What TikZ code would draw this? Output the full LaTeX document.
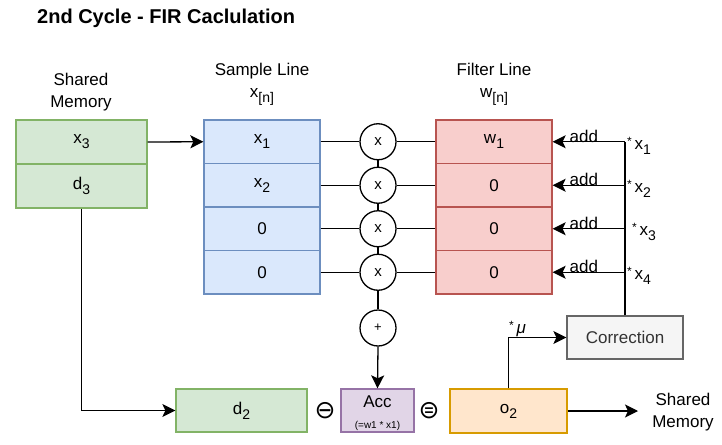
\documentclass[tikz,border=0pt]{standalone}
\usepackage{fontspec}
\setmainfont{Liberation Sans}
\newfontfamily\symfont{DejaVu Sans}
\usetikzlibrary{arrows.meta,calc}
\definecolor{gfill}{HTML}{D5E8D4}\definecolor{gline}{HTML}{82B366}
\definecolor{bfill}{HTML}{DAE8FC}\definecolor{bline}{HTML}{6C8EBF}
\definecolor{rfill}{HTML}{F8CECC}\definecolor{rline}{HTML}{B85450}
\definecolor{pfill}{HTML}{E1D5E7}\definecolor{pline}{HTML}{9673A6}
\definecolor{ofill}{HTML}{FFE6CC}\definecolor{oline}{HTML}{D79B00}
\definecolor{cfill}{HTML}{F5F5F5}\definecolor{cline}{HTML}{666666}
\definecolor{ctext}{HTML}{333333}
\newcommand{\mysub}[1]{\raisebox{-5pt}{\fontsize{14}{14}\selectfont #1}}
\newcommand{\mystar}{\raisebox{4pt}{\fontsize{12}{12}\selectfont*}}
\tikzset{
  txt/.style={font=\fontsize{17}{22}\selectfont, inner sep=0pt, align=center},
  cell/.style={draw, line width=1.3pt, inner sep=0pt, font=\fontsize{17}{20}\selectfont},
  gcell/.style={cell, fill=gfill, draw=gline, minimum width=131pt, minimum height=44pt},
  bcell/.style={cell, fill=bfill, draw=bline, minimum width=116pt, minimum height=43.5pt},
  rcell/.style={cell, fill=rfill, draw=rline, minimum width=116pt, minimum height=43.5pt},
  op/.style={circle, draw, line width=1.3pt, fill=white, minimum size=36pt, inner sep=0pt, font=\fontsize{15}{17}\selectfont},
  conn/.style={line width=1.3pt},
  arr/.style={line width=1.3pt, -{Stealth[length=13pt,width=13pt,inset=3pt]}},
  sym/.style={inner sep=0pt, font=\symfont\fontsize{25}{27}\selectfont},
}
\begin{document}
\begin{tikzpicture}[x=1pt,y=-1pt]
\useasboundingbox (0,0) rectangle (722,444);
% title
\node[anchor=west, inner sep=0pt, font=\fontsize{20}{24}\selectfont\bfseries] (title) at (37,18) {2nd Cycle - FIR Caclulation};
% labels
\node[txt] (lblmem) at (81,92) {Shared\\Memory};
\node[txt] (lblsam) at (262,84) {Sample Line\\x\mysub{[n]}};
\node[txt] (lblfil) at (494,84) {Filter Line\\w\mysub{[n]}};
% shared memory
\node[gcell] (m1) at (81.5,142) {x\mysub{3}};
\node[gcell] (m2) at (81.5,186) {d\mysub{3}};
% sample line
\node[bcell] (s1) at (262,141.75) {x\mysub{1}};
\node[bcell] (s2) at (262,185.25) {x\mysub{2}};
\node[bcell] (s3) at (262,228.75) {0};
\node[bcell] (s4) at (262,272.25) {0};
% filter line
\node[rcell] (f1) at (494,141.75) {w\mysub{1}};
\node[rcell] (f2) at (494,185.25) {0};
\node[rcell] (f3) at (494,228.75) {0};
\node[rcell] (f4) at (494,272.25) {0};
% multipliers
\node[op] (c1) at (378,141.75) {x};
\node[op] (c2) at (378,185.25) {x};
\node[op] (c3) at (378,228.75) {x};
\node[op] (c4) at (378,272.25) {x};
\node[op, font=\fontsize{13}{15}\selectfont] (plus) at (378,328) {+};
% bottom row
\node[cell, fill=gfill, draw=gline, minimum width=131pt, minimum height=43pt] (d2) at (241.5,410.5) {d\mysub{2}};
\node[cell, fill=pfill, draw=pline, minimum width=73pt, minimum height=43pt] (acc) at (377.5,410.5) {};
\node[txt] (acctop) at (377.5,402) {Acc};
\node[txt, font=\fontsize{10}{12}\selectfont] (accbot) at (377.5,426) {(=w1 * x1)};
\node[cell, fill=ofill, draw=oline, minimum width=117pt, minimum height=44pt] (o2) at (508.5,411) {o\mysub{2}};
\node[cell, fill=cfill, draw=cline, text=ctext, minimum width=116pt, minimum height=43pt] (corr) at (625,337.5) {Correction};
\node[sym] (minus) at (325,411) {⊖};
\node[sym] (equal) at (429,411) {⊜};
\node[txt] (outmem) at (683,412) {Shared\\Memory};
\coordinate (outend) at (638,411);
% connectors
\draw[arr] (m1.east) -- (s1.west);
\draw[arr] (m2.south) |- (d2.west);
\foreach \i in {1,2,3,4}{
  \draw[conn] (s\i.east) -- (c\i.west);
  \draw[conn] (c\i.east) -- (f\i.west);
}
\draw[conn] (c1.south) -- (c2.north);
\draw[conn] (c2.south) -- (c3.north);
\draw[conn] (c3.south) -- (c4.north);
\draw[conn] (c4.south) -- (plus.north);
\draw[arr] (plus.south) -- (acc.north);
\draw[arr] (o2.east) -- (outend);
\draw[arr] (o2.north) |- (corr.west);
\node[inner sep=0pt, font=\fontsize{17}{20}\selectfont, anchor=base west] (mu) at (509,333) {\mystar\,\textit{μ}};
% correction feedback
\coordinate (v1) at (625,141.75);
\coordinate (v2) at (625,185.25);
\coordinate (v3) at (625,228.75);
\coordinate (v4) at (625,272.25);
\draw[conn] (corr.north) -- (v1);
\foreach \i in {1,2,3,4}{
  \draw[arr] (v\i) -- (f\i.east);
  \node[txt, anchor=south] (add\i) at ([xshift=-5pt,yshift=-1pt]$(v\i)!0.5!(f\i.east)$) {add};
}
\node[txt, anchor=west] (k1) at (627,146) {\mystar\,x\mysub{1}};
\node[txt, anchor=west] (k2) at (627,189) {\mystar\,x\mysub{2}};
\node[txt, anchor=west] (k3) at (632,232) {\mystar\,x\mysub{3}};
\node[txt, anchor=west] (k4) at (627,276) {\mystar\,x\mysub{4}};
\end{tikzpicture}
\end{document}
